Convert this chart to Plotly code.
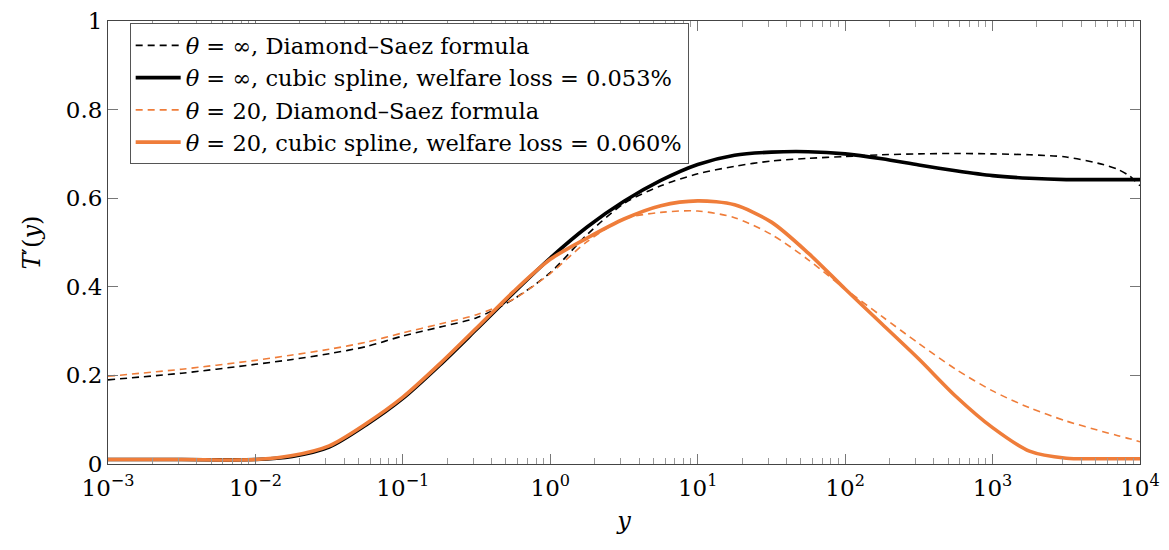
import plotly.graph_objects as go

# Income grid (log-spaced), shared by all four schedules
y_income = [1e-3, 3.162e-3, 1e-2, 1.778e-2, 3.162e-2, 5.623e-2, 1e-1, 1.778e-1,
            3.162e-1, 5.623e-1, 1.0, 1.778, 3.162, 5.623, 10.0, 17.78, 31.62,
            56.23, 100.0, 177.8, 316.2, 562.3, 1000.0, 1778.0, 3162.0, 5623.0,
            7079.0, 8511.0, 10000.0]

# Marginal tax rates T'(y)
ds_inf = [0.190, 0.205, 0.225, 0.236, 0.249, 0.265, 0.289, 0.309, 0.330, 0.372,
          0.432, 0.518, 0.588, 0.628, 0.655, 0.672, 0.684, 0.690, 0.694, 0.698,
          0.700, 0.701, 0.700, 0.698, 0.693, 0.676, 0.665, 0.650, 0.628]
spline_inf = [0.010, 0.010, 0.010, 0.017, 0.038, 0.088, 0.148, 0.223, 0.304, 0.386,
              0.465, 0.535, 0.593, 0.640, 0.676, 0.697, 0.704, 0.705, 0.700, 0.689,
              0.675, 0.662, 0.651, 0.645, 0.642, 0.642, 0.642, 0.642, 0.642]
ds_20 = [0.198, 0.214, 0.234, 0.246, 0.259, 0.275, 0.296, 0.316, 0.337, 0.372,
         0.430, 0.502, 0.553, 0.568, 0.571, 0.556, 0.518, 0.461, 0.395, 0.333,
         0.272, 0.214, 0.165, 0.127, 0.097, 0.073, 0.064, 0.057, 0.050]
spline_20 = [0.010, 0.010, 0.010, 0.019, 0.041, 0.091, 0.151, 0.226, 0.307, 0.389,
             0.462, 0.510, 0.553, 0.583, 0.594, 0.585, 0.546, 0.476, 0.395, 0.316,
             0.237, 0.153, 0.082, 0.029, 0.013, 0.012, 0.012, 0.012, 0.012]

names = [
    "<i>θ</i> = ∞, Diamond–Saez formula",
    "<i>θ</i> = ∞, cubic spline, welfare loss = 0.053%",
    "<i>θ</i> = 20, Diamond–Saez formula",
    "<i>θ</i> = 20, cubic spline, welfare loss = 0.060%",
]

ORANGE = "#EF7D3A"
FONT = "DejaVu Serif"

fig = go.Figure()
fig.add_trace(go.Scatter(x=y_income, y=ds_inf, mode="lines", name=names[0],
                         line=dict(color="black", width=1.6, dash="7px,5px", shape="spline", smoothing=0.8)))
fig.add_trace(go.Scatter(x=y_income, y=spline_inf, mode="lines", name=names[1],
                         line=dict(color="black", width=3.6, shape="spline", smoothing=0.8)))
fig.add_trace(go.Scatter(x=y_income, y=ds_20, mode="lines", name=names[2],
                         line=dict(color=ORANGE, width=1.6, dash="7px,5px", shape="spline", smoothing=0.8)))
fig.add_trace(go.Scatter(x=y_income, y=spline_20, mode="lines", name=names[3],
                         line=dict(color=ORANGE, width=3.6, shape="spline", smoothing=0.8)))

x_ticks = [1e-3, 1e-2, 1e-1, 1, 10, 100, 1000, 10000]
x_ticktext = ["10<sup>−3</sup>", "10<sup>−2</sup>", "10<sup>−1</sup>", "10<sup>0</sup>",
              "10<sup>1</sup>", "10<sup>2</sup>", "10<sup>3</sup>", "10<sup>4</sup>"]
y_ticks = [0, 0.2, 0.4, 0.6, 0.8, 1]
y_ticktext = ["0", "0.2", "0.4", "0.6", "0.8", "1"]

fig.update_layout(
    width=1169, height=550,
    margin=dict(l=108, r=29, t=8, b=86),
    paper_bgcolor="white", plot_bgcolor="white",
    font=dict(family=FONT, size=23, color="black"),
    showlegend=True,
    legend=dict(x=0.021, y=0.995, xanchor="left", yanchor="top",
                bgcolor="white", bordercolor="#555", borderwidth=1,
                font=dict(family=FONT, size=22.5, color="black"),
                tracegroupgap=0, itemwidth=45),
    xaxis=dict(type="log", range=[-3, 4], tickvals=x_ticks, ticktext=x_ticktext,
               ticks="inside", ticklen=10, tickcolor="#777", tickwidth=1,
               showline=True, linecolor="#444", linewidth=1, mirror="ticks",
               showgrid=False, zeroline=False, ticklabeloverflow="allow",
               ticklabelstandoff=3,
               tickfont=dict(family=FONT, size=23),
               minor=dict(ticks="inside", ticklen=6, tickcolor="#999", dtick="D1", showgrid=False),
               title=dict(text="<i>y</i>", font=dict(family=FONT, size=24), standoff=12)),
    yaxis=dict(range=[0, 1], tickvals=y_ticks, ticktext=y_ticktext,
               ticks="inside", ticklen=10, tickcolor="#777", tickwidth=1,
               showline=True, linecolor="#444", linewidth=1, mirror="ticks",
               showgrid=False, zeroline=False, ticklabeloverflow="allow",
               tickfont=dict(family=FONT, size=23),
               title=dict(text="<i>T</i>′(<i>y</i>)", font=dict(family=FONT, size=24), standoff=18)),
)

fig.write_html("out.html")
